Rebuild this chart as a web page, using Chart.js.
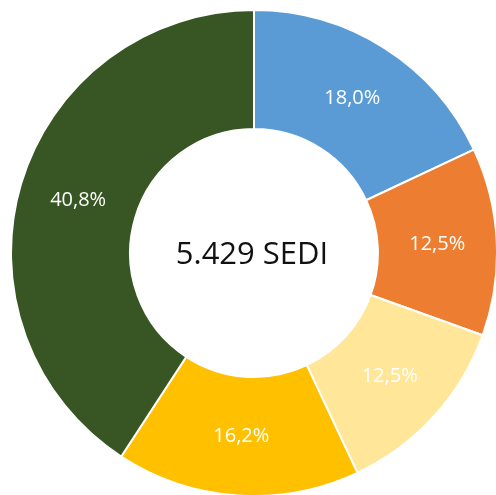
<!DOCTYPE html>
<html>
<head>
<meta charset="utf-8">
<script src="https://cdn.jsdelivr.net/npm/chart.js@4/dist/chart.umd.min.js"></script>
<style>
    html, body { margin: 0; padding: 0; background: #fff; overflow: hidden; }
    #wrap { position: absolute; left: 10px; top: 9px; width: 488px; height: 488px; }
</style>
</head>
<body>
<div id="wrap"><canvas id="donutChart"></canvas></div>
<script>
// Data
const categories = ['A', 'B', 'C', 'D', 'E'];
const shares = [18.0, 12.5, 12.5, 16.2, 40.8];
const sliceColors = ['#5B9BD5', '#ED7D31', '#FFE699', '#FFC000', '#375623'];
const centerLabel = '5.429 SEDI';

// Percentage labels in the middle of each ring segment
const sliceLabels = {
    id: 'sliceLabels',
    afterDatasetsDraw(chart) {
        const ctx = chart.ctx;
        const meta = chart.getDatasetMeta(0);
        ctx.save();
        ctx.fillStyle = '#ffffff';
        ctx.font = '20px "Open Sans"';
        ctx.textAlign = 'center';
        ctx.textBaseline = 'middle';
        meta.data.forEach((arc, i) => {
            const p = arc.getCenterPoint();
            const txt = shares[i].toFixed(1).replace('.', ',') + '%';
            ctx.fillText(txt, p.x, p.y);
        });
        ctx.restore();
    }
};

// Total in the hole
const centerText = {
    id: 'centerText',
    afterDraw(chart) {
        const ctx = chart.ctx;
        const arc = chart.getDatasetMeta(0).data[0];
        ctx.save();
        ctx.fillStyle = '#111111';
        ctx.font = '31px "Open Sans"';
        ctx.textAlign = 'center';
        ctx.textBaseline = 'middle';
        ctx.fillText(centerLabel, arc.x - 2, arc.y + 2);
        ctx.restore();
    }
};

new Chart(document.getElementById('donutChart'), {
    type: 'doughnut',
    data: {
        labels: categories,
        datasets: [{
            data: shares,
            backgroundColor: sliceColors,
            borderColor: '#ffffff',
            borderWidth: 2
        }]
    },
    options: {
        responsive: true,
        maintainAspectRatio: false,
        animation: false,
        cutout: '51%',
        layout: { padding: 0 },
        plugins: {
            legend: { display: false },
            tooltip: { enabled: false }
        }
    },
    plugins: [sliceLabels, centerText]
});
</script>
</body>
</html>
